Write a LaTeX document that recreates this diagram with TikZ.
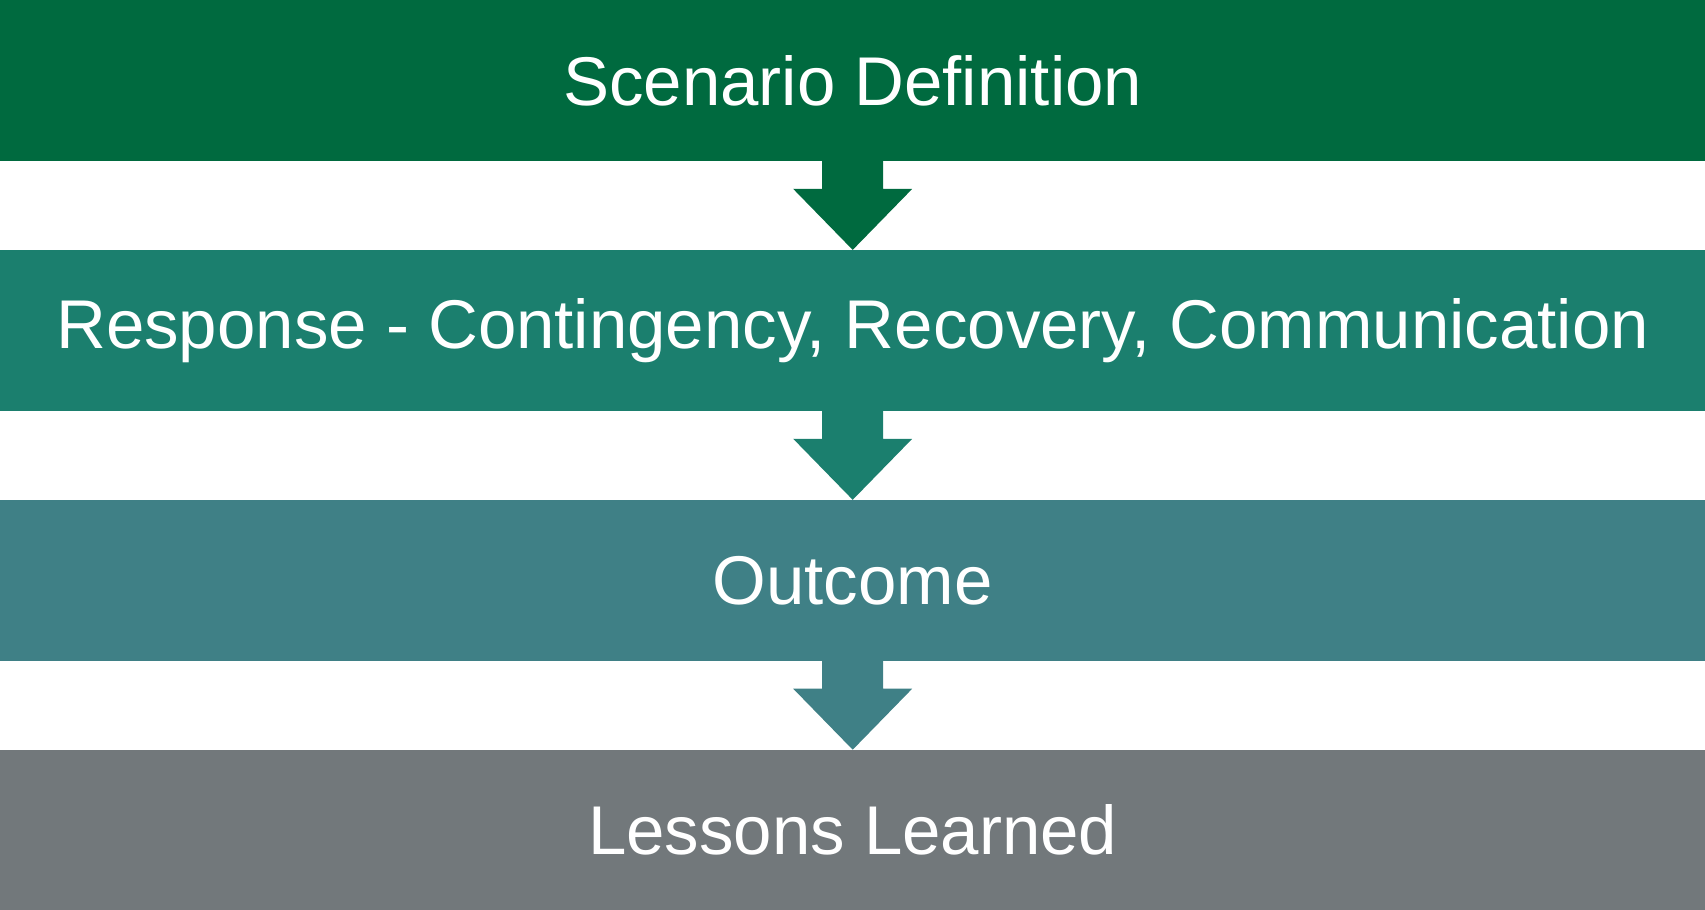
\documentclass[tikz,border=0pt]{standalone}
\usepackage{fontspec}
\setmainfont{Liberation Sans}
\usetikzlibrary{positioning}

\definecolor{stepA}{RGB}{0,106,63}
\definecolor{stepB}{RGB}{27,127,110}
\definecolor{stepC}{RGB}{63,128,134}
\definecolor{stepD}{RGB}{114,120,123}

\tikzset{
    stepbox/.style={rectangle, inner sep=0, minimum width=1705pt,
        minimum height=160.5pt, text=white,
        font=\fontsize{69}{80}\selectfont},
}

\begin{document}
\begin{tikzpicture}[x=1pt, y=1pt]

    % ---------- 几何参数 ----------
    \def\gap{89pt}      % 方框间距
    \def\shaft{30.5}    % 箭杆半宽
    \def\head{59.5}     % 箭头半宽
    \def\shaftlen{28}   % 箭杆长度

    \useasboundingbox (0,0) rectangle (1705,-910);

    % ---------- 方框 ----------
    \node[stepbox, fill=stepA, anchor=north west] (scenario) at (0,0) {Scenario Definition};
    \node[stepbox, fill=stepB, below=\gap of scenario] (response) {Response - Contingency, Recovery, Communication};
    \node[stepbox, fill=stepC, below=\gap of response] (outcome) {Outcome};
    \node[stepbox, fill=stepD, below=\gap of outcome] (lessons) {Lessons Learned};

    % ---------- 箭头 ----------
    \foreach \from/\to/\col in {scenario/response/stepA, response/outcome/stepB, outcome/lessons/stepC}
        \fill[\col] (\from.south) ++(-\shaft,0) -- ++(0,-\shaftlen) -- ++(\shaft-\head,0)
            -- (\to.north) -- ++(\head,{\gap-\shaftlen}) -- ++(\shaft-\head,0)
            -- ++(0,\shaftlen) -- cycle;

\end{tikzpicture}
\end{document}
